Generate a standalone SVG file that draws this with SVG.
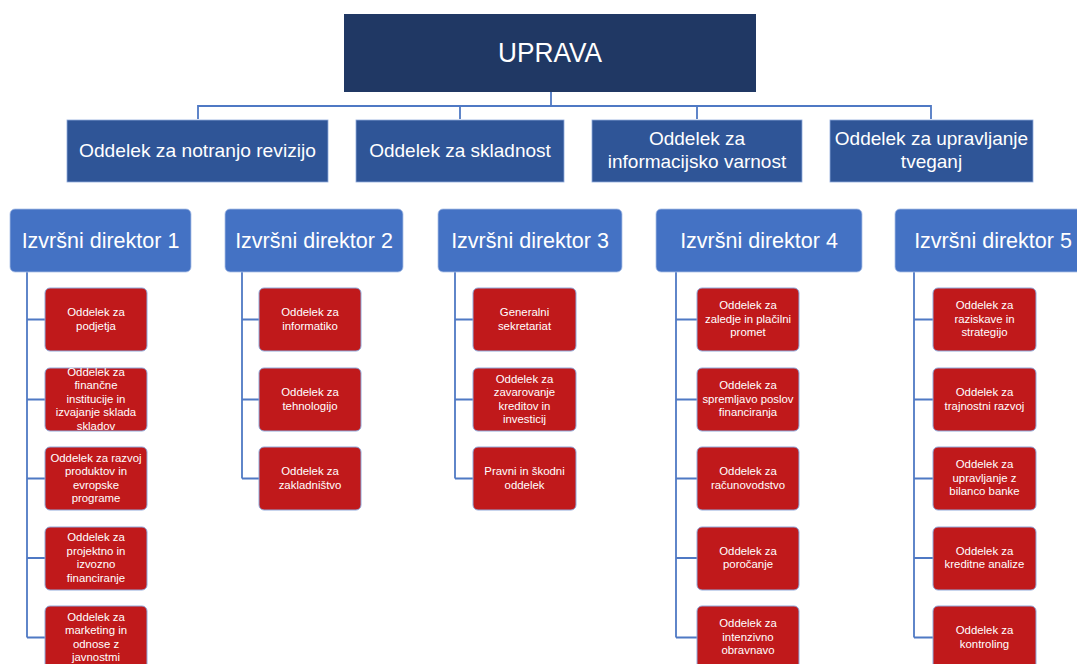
<svg xmlns="http://www.w3.org/2000/svg" width="1077" height="664" viewBox="0 0 1077 664">
<style>
text{font-family:"Liberation Sans",Arial,sans-serif;fill:#fff;text-anchor:middle}
.top{fill:#203864}
.l2{fill:#2F5597;stroke:#8FAADC;stroke-width:0.8}
.dir{fill:#4472C4;stroke:#A9BFE6;stroke-width:0.8}
.red{fill:#C0191B;stroke:#8FAADC;stroke-width:1}
.t0{font-size:27px}
.t2{font-size:19px}
.td{font-size:21.5px}
.tr{font-size:11.4px}
.con path{fill:none;stroke:#4F79C4;stroke-width:1.8}
</style>
<rect width="1077" height="664" fill="#fff"/>
<g class="con">
<path d="M551 92V106M198 119V106H931V119M460 106V119M697 106V119"/>
<path d="M27 272V637.5M27 319.5H45M27 399.5H45M27 478.5H45M27 558H45M27 637.5H45"/>
<path d="M242 272V478.5M242 319.5H259M242 399.5H259M242 478.5H259"/>
<path d="M455 272V478.5M455 319.5H473M455 399.5H473M455 478.5H473"/>
<path d="M676 272V637.5M676 319.5H697M676 399.5H697M676 478.5H697M676 558H697M676 637.5H697"/>
<path d="M914 272V637.5M914 319.5H933M914 399.5H933M914 478.5H933M914 558H933M914 637.5H933"/>
</g>
<g id="uprava"><rect class="top" x="344" y="14" width="412" height="78"/><text class="t0" x="550" y="62" textLength="104" lengthAdjust="spacingAndGlyphs">UPRAVA</text></g>
<g id="l2-1"><rect class="l2" x="67" y="120" width="261" height="62"/><text class="t2" x="197.5" y="157" textLength="237" lengthAdjust="spacingAndGlyphs">Oddelek za notranjo revizijo</text></g>
<g id="l2-2"><rect class="l2" x="356" y="120" width="208" height="62"/><text class="t2" x="460" y="157">Oddelek za skladnost</text></g>
<g id="l2-3"><rect class="l2" x="592" y="120" width="210" height="62"/><text class="t2" x="697" y="145">Oddelek za</text><text class="t2" x="697" y="168">informacijsko varnost</text></g>
<g id="l2-4"><rect class="l2" x="830" y="120" width="203" height="62"/><text class="t2" x="931.5" y="145">Oddelek za upravljanje</text><text class="t2" x="931.5" y="168">tveganj</text></g>
<g id="dir1"><rect class="dir" x="10" y="209" width="181" height="63" rx="5"/><text class="td" x="100.5" y="248">Izvršni direktor 1</text></g>
<g id="dir2"><rect class="dir" x="225" y="209" width="178" height="63" rx="5"/><text class="td" x="314" y="248">Izvršni direktor 2</text></g>
<g id="dir3"><rect class="dir" x="438" y="209" width="184" height="63" rx="5"/><text class="td" x="530" y="248">Izvršni direktor 3</text></g>
<g id="dir4"><rect class="dir" x="656" y="209" width="206" height="63" rx="5"/><text class="td" x="759" y="248">Izvršni direktor 4</text></g>
<g id="dir5"><rect class="dir" x="895" y="209" width="196" height="63" rx="5"/><text class="td" x="993" y="248">Izvršni direktor 5</text></g>
<g id="d1-1"><rect class="red" x="45" y="288" width="102" height="63" rx="5"/><text class="tr" x="96" y="316">Oddelek za</text><text class="tr" x="96" y="329.5">podjetja</text></g>
<g id="d1-2"><rect class="red" x="45" y="368" width="102" height="63" rx="5"/><text class="tr" x="96" y="375.7">Oddelek za</text><text class="tr" x="96" y="389.2">finančne</text><text class="tr" x="96" y="402.7">institucije in</text><text class="tr" x="96" y="416.2">izvajanje sklada</text><text class="tr" x="96" y="429.7">skladov</text></g>
<g id="d1-3"><rect class="red" x="45" y="447" width="102" height="63" rx="5"/><text class="tr" x="96" y="461.5">Oddelek za razvoj</text><text class="tr" x="96" y="475">produktov in</text><text class="tr" x="96" y="488.5">evropske</text><text class="tr" x="96" y="502">programe</text></g>
<g id="d1-4"><rect class="red" x="45" y="527" width="102" height="63" rx="5"/><text class="tr" x="96" y="541">Oddelek za</text><text class="tr" x="96" y="554.5">projektno in</text><text class="tr" x="96" y="568">izvozno</text><text class="tr" x="96" y="581.5">financiranje</text></g>
<g id="d1-5"><rect class="red" x="45" y="606" width="102" height="63" rx="5"/><text class="tr" x="96" y="620.5">Oddelek za</text><text class="tr" x="96" y="634">marketing in</text><text class="tr" x="96" y="647.5">odnose z</text><text class="tr" x="96" y="661">javnostmi</text></g>
<g id="d2-1"><rect class="red" x="259" y="288" width="102" height="63" rx="5"/><text class="tr" x="310" y="316">Oddelek za</text><text class="tr" x="310" y="329.5">informatiko</text></g>
<g id="d2-2"><rect class="red" x="259" y="368" width="102" height="63" rx="5"/><text class="tr" x="310" y="396">Oddelek za</text><text class="tr" x="310" y="409.5">tehnologijo</text></g>
<g id="d2-3"><rect class="red" x="259" y="447" width="102" height="63" rx="5"/><text class="tr" x="310" y="475">Oddelek za</text><text class="tr" x="310" y="488.5">zakladništvo</text></g>
<g id="d3-1"><rect class="red" x="473" y="288" width="103" height="63" rx="5"/><text class="tr" x="524.5" y="316">Generalni</text><text class="tr" x="524.5" y="329.5">sekretariat</text></g>
<g id="d3-2"><rect class="red" x="473" y="368" width="103" height="63" rx="5"/><text class="tr" x="524.5" y="382.5">Oddelek za</text><text class="tr" x="524.5" y="396">zavarovanje</text><text class="tr" x="524.5" y="409.5">kreditov in</text><text class="tr" x="524.5" y="423">investicij</text></g>
<g id="d3-3"><rect class="red" x="473" y="447" width="103" height="63" rx="5"/><text class="tr" x="524.5" y="475">Pravni in škodni</text><text class="tr" x="524.5" y="488.5">oddelek</text></g>
<g id="d4-1"><rect class="red" x="697" y="288" width="102" height="63" rx="5"/><text class="tr" x="748" y="309.2">Oddelek za</text><text class="tr" x="748" y="322.7">zaledje in plačilni</text><text class="tr" x="748" y="336.2">promet</text></g>
<g id="d4-2"><rect class="red" x="697" y="368" width="102" height="63" rx="5"/><text class="tr" x="748" y="389.2">Oddelek za</text><text class="tr" x="748" y="402.7">spremljavo poslov</text><text class="tr" x="748" y="416.2">financiranja</text></g>
<g id="d4-3"><rect class="red" x="697" y="447" width="102" height="63" rx="5"/><text class="tr" x="748" y="475">Oddelek za</text><text class="tr" x="748" y="488.5">računovodstvo</text></g>
<g id="d4-4"><rect class="red" x="697" y="527" width="102" height="63" rx="5"/><text class="tr" x="748" y="554.5">Oddelek za</text><text class="tr" x="748" y="568">poročanje</text></g>
<g id="d4-5"><rect class="red" x="697" y="606" width="102" height="63" rx="5"/><text class="tr" x="748" y="627.2">Oddelek za</text><text class="tr" x="748" y="640.7">intenzivno</text><text class="tr" x="748" y="654.2">obravnavo</text></g>
<g id="d5-1"><rect class="red" x="933" y="288" width="103" height="63" rx="5"/><text class="tr" x="984.5" y="309.2">Oddelek za</text><text class="tr" x="984.5" y="322.7">raziskave in</text><text class="tr" x="984.5" y="336.2">strategijo</text></g>
<g id="d5-2"><rect class="red" x="933" y="368" width="103" height="63" rx="5"/><text class="tr" x="984.5" y="396">Oddelek za</text><text class="tr" x="984.5" y="409.5">trajnostni razvoj</text></g>
<g id="d5-3"><rect class="red" x="933" y="447" width="103" height="63" rx="5"/><text class="tr" x="984.5" y="468.2">Oddelek za</text><text class="tr" x="984.5" y="481.7">upravljanje z</text><text class="tr" x="984.5" y="495.2">bilanco banke</text></g>
<g id="d5-4"><rect class="red" x="933" y="527" width="103" height="63" rx="5"/><text class="tr" x="984.5" y="554.5">Oddelek za</text><text class="tr" x="984.5" y="568">kreditne analize</text></g>
<g id="d5-5"><rect class="red" x="933" y="606" width="103" height="63" rx="5"/><text class="tr" x="984.5" y="634">Oddelek za</text><text class="tr" x="984.5" y="647.5">kontroling</text></g>
</svg>
